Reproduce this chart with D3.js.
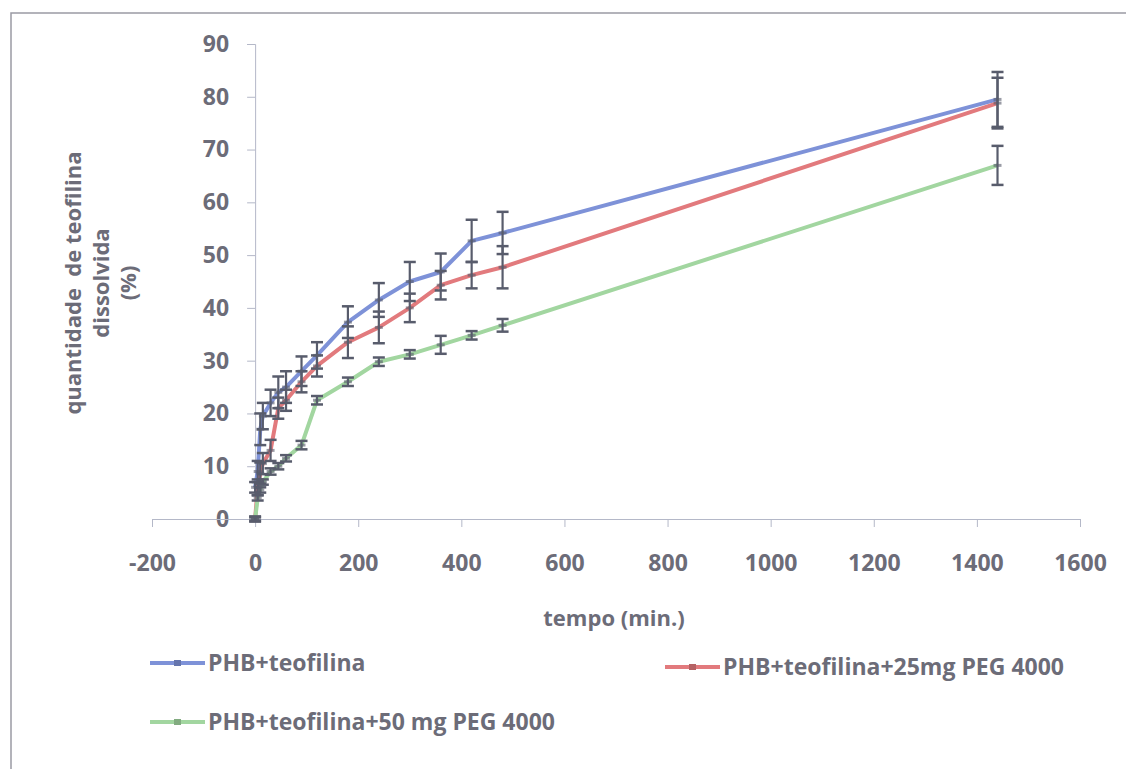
<!DOCTYPE html>
<html>
<head>
<meta charset="utf-8">
<script src="https://cdn.jsdelivr.net/npm/d3@7"></script>
<style>
  body { margin: 0; background: #fff; }
  text { font-family: "Open Sans", sans-serif; font-weight: 700; fill: #6c6c78; }
</style>
</head>
<body>
<div id="chart"></div>
<script>
// time points (min.)
var tempos = [0, 5, 10, 15, 30, 45, 60, 90, 120, 180, 240, 300, 360, 420, 480, 1440];

var phb      = [6, 9, 17, 19.5, 22, 24, 25, 28, 31, 37.3, 41.5, 45, 46.8, 52.7, 54.2, 79.5];
var phbErr   = [1, 2, 3, 2.5, 2.5, 3, 3, 2.8, 2.5, 3, 3.2, 3.7, 3.5, 4, 4, 5.2];
var peg25    = [0, 6, 8.7, 10.5, 13, 21, 22.5, 26, 29, 33.5, 36.3, 40, 44.3, 46.2, 47.7, 78.8];
var peg25Err = [0.5, 1.5, 2, 2, 2, 2, 2, 2, 2, 3, 3, 2.7, 2.7, 2.5, 4, 4.8];
var peg50    = [0, 4, 5.5, 7, 9, 10, 11.5, 14, 22.5, 26, 29.8, 31.2, 33, 34.8, 36.7, 67];
var peg50Err = [0.3, 0.5, 0.5, 0.5, 0.6, 0.6, 0.6, 0.8, 0.8, 0.8, 0.8, 0.8, 1.7, 0.8, 1.2, 3.7];

var xTicks = [-200, 0, 200, 400, 600, 800, 1000, 1200, 1400, 1600];
var yTicks = [0, 10, 20, 30, 40, 50, 60, 70, 80, 90];

var series = [
  {name: "PHB+teofilina", y: phb, err: phbErr, color: "#7e92d8"},
  {name: "PHB+teofilina+25mg PEG 4000", y: peg25, err: peg25Err, color: "#e27a7d"},
  {name: "PHB+teofilina+50 mg PEG 4000", y: peg50, err: peg50Err, color: "#a2d6a0"}
];

var width = 1126, height = 769;
var axisColor = "#b4b8c8", errColor = "#585c6c";
var fmt = function(d){ return d < 0 ? "-" + Math.abs(d) : "" + d; };

var svg = d3.select("#chart").append("svg")
  .attr("width", width)
  .attr("height", height);

// frame
svg.append("rect")
  .attr("x", 11).attr("y", 13)
  .attr("width", 1140).attr("height", 800)
  .attr("fill", "none")
  .attr("stroke", "#9a9aa4")
  .attr("stroke-width", 1.5);

var x = d3.scaleLinear().domain([-200, 1600]).range([152, 1080]);
var y = d3.scaleLinear().domain([0, 90]).range([519, 44]);

// y axis at x = 0
var yAxis = svg.append("g")
  .attr("transform", "translate(" + x(0) + ",0)")
  .call(d3.axisLeft(y).tickValues(yTicks).tickFormat(fmt).tickSize(8).tickPadding(18));
yAxis.select(".domain").attr("stroke", axisColor);
yAxis.selectAll(".tick line").attr("stroke", axisColor);
yAxis.selectAll(".tick text").attr("font-size", 23).attr("fill", "#6c6c78");

// x axis at y = 0
var xAxis = svg.append("g")
  .attr("transform", "translate(0," + y(0) + ")")
  .call(d3.axisBottom(x).tickValues(xTicks).tickFormat(fmt).tickSize(8).tickPadding(28));
xAxis.select(".domain").attr("stroke", axisColor);
xAxis.selectAll(".tick line").attr("stroke", axisColor);
xAxis.selectAll(".tick text").attr("font-size", 23).attr("fill", "#6c6c78");

// axis titles
svg.append("text")
  .attr("x", 614).attr("y", 626)
  .attr("text-anchor", "middle")
  .attr("font-size", 22)
  .text("tempo (min.)");

var yTitle = svg.append("text")
  .attr("transform", "translate(81,283) rotate(-90)")
  .attr("text-anchor", "middle")
  .attr("font-size", 22);
["quantidade  de teofilina", "dissolvida", "(%)"].forEach(function(t, i){
  yTitle.append("tspan")
    .attr("x", 0)
    .attr("dy", i == 0 ? 0 : 27.5)
    .attr("xml:space", "preserve")
    .text(t);
});

var line = d3.line()
  .x(function(d){ return x(d[0]); })
  .y(function(d){ return y(d[1]); });

// lines
series.forEach(function(s){
  var pts = tempos.map(function(t, i){ return [t, s.y[i]]; });
  svg.append("path")
    .datum(pts)
    .attr("d", line)
    .attr("fill", "none")
    .attr("stroke", s.color)
    .attr("stroke-width", 4)
    .attr("stroke-linejoin", "round");
});

// error bars + markers
series.forEach(function(s){
  var g = svg.append("g");
  tempos.forEach(function(t, i){
    var cx = x(t), y1 = y(s.y[i] + s.err[i]), y2 = y(s.y[i] - s.err[i]);
    g.append("line").attr("x1", cx).attr("x2", cx).attr("y1", y1).attr("y2", y2)
      .attr("stroke", errColor).attr("stroke-width", 2.2);
    [y1, y2].forEach(function(yy){
      g.append("line").attr("x1", cx - 6).attr("x2", cx + 6).attr("y1", yy).attr("y2", yy)
        .attr("stroke", errColor).attr("stroke-width", 2.5);
    });
    g.append("line").attr("x1", cx - 4).attr("x2", cx + 4)
      .attr("y1", y(s.y[i])).attr("y2", y(s.y[i]))
      .attr("stroke", errColor).attr("stroke-width", 3).attr("opacity", 0.6);
  });
});

// legend
var legendPos = [[150, 663], [665, 667], [150, 722]];
series.forEach(function(s, i){
  var p = legendPos[i];
  var g = svg.append("g").attr("transform", "translate(" + p[0] + "," + p[1] + ")");
  g.append("line").attr("x1", 0).attr("x2", 55).attr("y1", 0).attr("y2", 0)
    .attr("stroke", s.color).attr("stroke-width", 4);
  g.append("line").attr("x1", 24).attr("x2", 31).attr("y1", 0).attr("y2", 0)
    .attr("stroke", s.color).attr("stroke-width", 6).attr("filter", "brightness(0.8)");
  g.append("text").attr("x", 58).attr("y", 8)
    .attr("font-size", 23)
    .text(s.name);
});
</script>
</body>
</html>
